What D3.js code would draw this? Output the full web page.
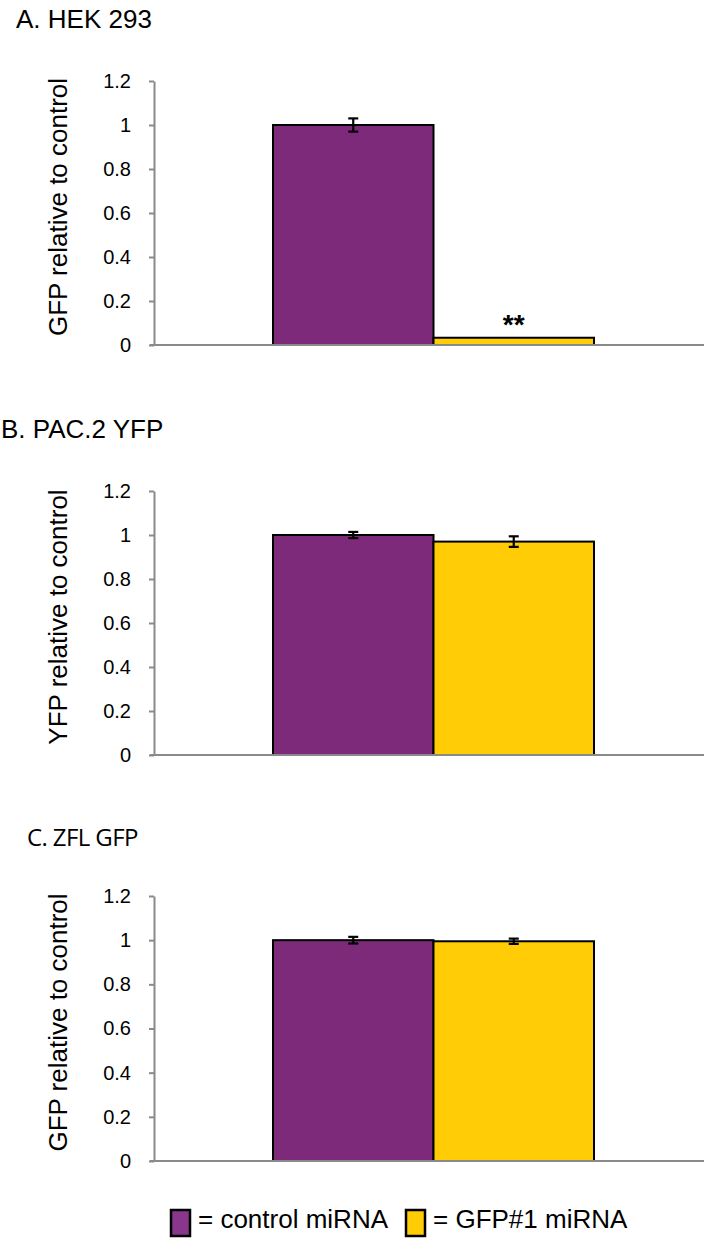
<!DOCTYPE html>
<html>
<head>
<meta charset="utf-8">
<script src="https://cdn.jsdelivr.net/npm/d3@7"></script>
<style>
	body { margin: 0; background: #fff; }
	svg { display: block; }
	.tick text { font-family: "Liberation Sans", Arial, sans-serif; font-size: 20px; fill: #000; }
</style>
</head>
<body>
<svg id="fig" width="704" height="1239" viewBox="0 0 704 1239"></svg>
<script>
// data
const categories = ["control miRNA", "GFP#1 miRNA"];
const barColors = ["#7d2a7b", "#ffcc05"];
const legendColors = ["#8a368c", "#ffcc05"];
const yTicks = [0, 0.2, 0.4, 0.6, 0.8, 1, 1.2];

const panelTitles = ["A. HEK 293", "B. PAC.2 YFP", "C. ZFL GFP"];
const yLabels = ["GFP relative to control", "YFP relative to control", "GFP relative to control"];

const hekValues = [1.0, 0.033];
const hekErrors = [0.03, 0];
const pacValues = [1.0, 0.97];
const pacErrors = [0.014, 0.024];
const zflValues = [1.0, 0.995];
const zflErrors = [0.015, 0.012];
const hekSignif = ["", "**"];

const svg = d3.select("#fig");

function drawPanel(cfg) {
	const y = d3.scaleLinear()
		.domain([0, 1.2])
		.range([cfg.zeroY, cfg.topY]);

	const x = d3.scaleBand()
		.domain(categories)
		.range([273, 594])
		.padding(0);

	const g = svg.append("g");

	// panel title
	g.append("text")
		.attr("x", cfg.titleX)
		.attr("y", cfg.titleY)
		.style("font-family", cfg.titleFont)
		.style("font-size", cfg.titleSize + "px")
		.style("letter-spacing", cfg.titleSpacing || "0px")
		.text(cfg.title);

	// y label
	g.append("text")
		.attr("transform", "translate(67," + ((cfg.zeroY + cfg.topY) / 2 - 6) + ") rotate(-90)")
		.attr("text-anchor", "middle")
		.style("font-family", "'Liberation Sans', Arial, sans-serif")
		.style("font-size", "26px")
		.text(cfg.yLabel);

	// bars
	g.selectAll(".bar")
		.data(categories)
		.enter()
		.append("rect")
			.attr("class", "bar")
			.attr("x", d => x(d))
			.attr("y", (d, i) => y(cfg.values[i]))
			.attr("width", x.bandwidth())
			.attr("height", (d, i) => y(0) - y(cfg.values[i]))
			.style("fill", (d, i) => barColors[i])
			.style("stroke", "#000")
			.style("stroke-width", "2px");

	// axis
	const axis = d3.axisLeft(y)
		.tickValues(yTicks)
		.tickFormat(d => String(d))
		.tickSize(5)
		.tickSizeOuter(0)
		.tickPadding(18);

	const axis_g = g.append("g")
		.attr("transform", "translate(154,0)")
		.call(axis);
	axis_g.selectAll("path, line")
		.style("stroke", "#8a8a8a")
		.style("stroke-width", "2px");

	// baseline
	g.append("line")
		.attr("x1", 150)
		.attr("x2", 704)
		.attr("y1", y(0))
		.attr("y2", y(0))
		.style("stroke", "#8a8a8a")
		.style("stroke-width", "2px");

	// error bars
	const eb = g.selectAll(".err")
		.data(categories.filter((d, i) => cfg.errors[i] > 0))
		.enter()
		.append("g")
			.attr("class", "err");
	const idx = d => categories.indexOf(d);
	const cx = d => x(d) + x.bandwidth() / 2;
	eb.append("line")
		.attr("x1", cx).attr("x2", cx)
		.attr("y1", d => y(cfg.values[idx(d)] + cfg.errors[idx(d)]))
		.attr("y2", d => y(cfg.values[idx(d)] - cfg.errors[idx(d)]));
	eb.append("line")
		.attr("x1", d => cx(d) - 5).attr("x2", d => cx(d) + 5)
		.attr("y1", d => y(cfg.values[idx(d)] + cfg.errors[idx(d)]))
		.attr("y2", d => y(cfg.values[idx(d)] + cfg.errors[idx(d)]));
	eb.append("line")
		.attr("x1", d => cx(d) - 5).attr("x2", d => cx(d) + 5)
		.attr("y1", d => y(cfg.values[idx(d)] - cfg.errors[idx(d)]))
		.attr("y2", d => y(cfg.values[idx(d)] - cfg.errors[idx(d)]));
	eb.selectAll("line")
		.style("stroke", "#000")
		.style("stroke-width", "2.2px");

	// significance marks
	if (cfg.signif) {
		g.selectAll(".sig")
			.data(categories)
			.enter()
			.append("text")
				.attr("x", d => x(d) + x.bandwidth() / 2)
				.attr("y", (d, i) => y(cfg.values[i]) - 4)
				.attr("text-anchor", "middle")
				.style("font-family", "'Liberation Sans', Arial, sans-serif")
				.style("font-size", "28px")
				.style("font-weight", "bold")
				.text((d, i) => cfg.signif[i]);
	}
}

drawPanel({
	title: panelTitles[0], titleX: 16, titleY: 28, titleFont: "'Liberation Sans', Arial, sans-serif", titleSize: 26,
	yLabel: yLabels[0], values: hekValues, errors: hekErrors, signif: hekSignif,
	topY: 81, zeroY: 345
});
drawPanel({
	title: panelTitles[1], titleX: 1, titleY: 438, titleFont: "'Liberation Sans', Arial, sans-serif", titleSize: 26,
	yLabel: yLabels[1], values: pacValues, errors: pacErrors,
	topY: 491, zeroY: 755
});
drawPanel({
	title: panelTitles[2], titleX: 27, titleY: 846, titleFont: "'Open Sans', sans-serif", titleSize: 24, titleSpacing: "-0.6px",
	yLabel: yLabels[2], values: zflValues, errors: zflErrors,
	topY: 896, zeroY: 1161
});

// legend
const legend = svg.append("g").attr("transform", "translate(0,1210)");
const legendX = [171, 406];
const legendItems = legend.selectAll("g")
	.data(categories)
	.enter()
	.append("g")
		.attr("transform", (d, i) => "translate(" + legendX[i] + ",0)");
legendItems.append("rect")
	.attr("width", 19)
	.attr("height", 26)
	.style("fill", (d, i) => legendColors[i])
	.style("stroke", "#000")
	.style("stroke-width", "2.5px");
legendItems.append("text")
	.attr("x", 27)
	.attr("y", 18)
	.style("font-family", "'Liberation Sans', Arial, sans-serif")
	.style("font-size", "26px")
	.text(d => "= " + d);
</script>
</body>
</html>
